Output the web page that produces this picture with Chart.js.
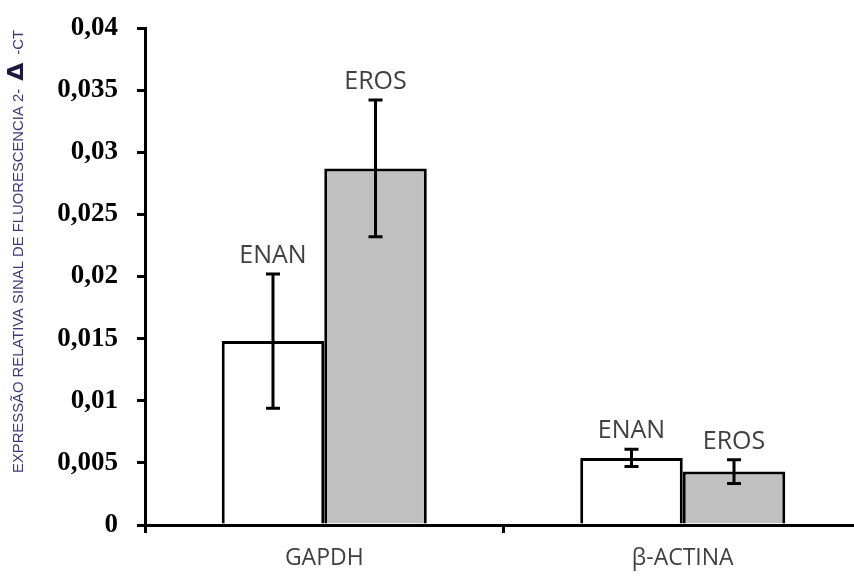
<!DOCTYPE html>
<html>
<head>
<meta charset="utf-8">
<script src="https://cdn.jsdelivr.net/npm/chart.js@4/dist/chart.umd.min.js"></script>
<style>
  html, body { margin: 0; padding: 0; background: #fff; overflow: hidden; }
  #wrap { width: 862px; height: 576px; }
</style>
</head>
<body>
<div id="wrap"><canvas id="c" width="862" height="576"></canvas></div>
<script>
// Genes on the x axis
const categories = ['GAPDH', 'β-ACTINA'];
// Series names (also written above each bar)
const seriesNames = ['ENAN', 'EROS'];
// Relative expression (2^-ΔCt) per gene
const enanValues = [0.0148, 0.0054];
const erosValues = [0.0287, 0.0043];
// Error bar half-widths
const enanErrors = [0.0054, 0.0007];
const erosErrors = [0.0055, 0.00095];
// Y axis ticks
const yTicks = [0, 0.005, 0.01, 0.015, 0.02, 0.025, 0.03, 0.035, 0.04];
const yTitleParts = ['EXPRESSÃO RELATIVA SINAL DE FLUORESCENCIA 2-', ' Δ ', '-CT'];

const errors = [enanErrors, erosErrors];

const errorBarPlugin = {
  id: 'errorBars',
  afterDatasetsDraw(chart) {
    const ctx = chart.ctx;
    const y = chart.scales.y;
    chart.data.datasets.forEach((ds, di) => {
      const meta = chart.getDatasetMeta(di);
      meta.data.forEach((bar, i) => {
        const v = ds.data[i];
        const e = errors[di][i];
        const yt = y.getPixelForValue(v + e);
        const yb = y.getPixelForValue(v - e);
        const x = bar.x;
        ctx.save();
        ctx.strokeStyle = '#000';
        ctx.lineWidth = 3;
        ctx.beginPath();
        ctx.moveTo(x, yt); ctx.lineTo(x, yb);
        ctx.moveTo(x - 7, yt); ctx.lineTo(x + 7, yt);
        ctx.moveTo(x - 7, yb); ctx.lineTo(x + 7, yb);
        ctx.stroke();
        // series name above the error bar
        ctx.fillStyle = '#404040';
        ctx.font = '25px "Open Sans"';
        ctx.textAlign = 'center';
        ctx.textBaseline = 'alphabetic';
        ctx.fillText(ds.label, x, yt - 11);
        ctx.restore();
      });
    });
  }
};

const yTitlePlugin = {
  id: 'yTitle',
  afterDraw(chart) {
    const ctx = chart.ctx;
    ctx.save();
    ctx.translate(23, 473);
    ctx.rotate(-Math.PI / 2);
    const fonts = ['14px "Liberation Sans"', 'bold 22px "DejaVu Sans"', '14px "Liberation Sans"'];
    let total = 0;
    const widths = yTitleParts.map((t, i) => { ctx.font = fonts[i]; const w = ctx.measureText(t).width; total += w; return w; });
    const sx = 443 / total;
    ctx.scale(sx, 1);
    let x = 0;
    yTitleParts.forEach((t, i) => {
      ctx.font = fonts[i];
      ctx.fillStyle = i === 1 ? '#1a1a40' : '#3a3a7a';
      ctx.textBaseline = 'alphabetic';
      ctx.fillText(t, x, 0);
      x += widths[i];
    });
    ctx.restore();
  }
};

new Chart(document.getElementById('c'), {
  type: 'bar',
  data: {
    labels: categories,
    datasets: [
      { label: seriesNames[0], data: enanValues, backgroundColor: '#ffffff', borderColor: '#000', borderWidth: 3,
        categoryPercentage: 0.572, barPercentage: 1.0 },
      { label: seriesNames[1], data: erosValues, backgroundColor: '#c0c0c0', borderColor: '#000', borderWidth: 3,
        categoryPercentage: 0.572, barPercentage: 1.0 }
    ]
  },
  options: {
    responsive: false,
    animation: false,
    layout: { padding: { top: 28, right: 0, left: 0, bottom: 0 } },
    plugins: { legend: { display: false }, tooltip: { enabled: false } },
    scales: {
      x: {
        offset: true,
        grid: { offset: true, drawOnChartArea: false, drawTicks: true, tickLength: 8, color: '#000', lineWidth: 3 },
        border: { color: '#000', width: 3 },
        ticks: { color: '#404040', font: { family: 'Open Sans', size: 23 }, padding: 12 },
        afterFit(s) { s.height = 51; }
      },
      y: {
        min: 0, max: 0.04,
        afterBuildTicks(s) { s.ticks = yTicks.map(v => ({ value: v })); },
        grid: { drawOnChartArea: false, drawTicks: true, tickLength: 8, color: '#000', lineWidth: 3 },
        border: { color: '#000', width: 3 },
        ticks: {
          color: '#000',
          font: { family: 'Liberation Serif', size: 27, weight: 'bold' },
          padding: 19,
          callback: v => String(v).replace('.', ',')
        },
        afterFit(s) { s.width = 145; s.paddingTop = 0; s.paddingBottom = 0; }
      }
    }
  },
  plugins: [errorBarPlugin, yTitlePlugin]
});
</script>
</body>
</html>
